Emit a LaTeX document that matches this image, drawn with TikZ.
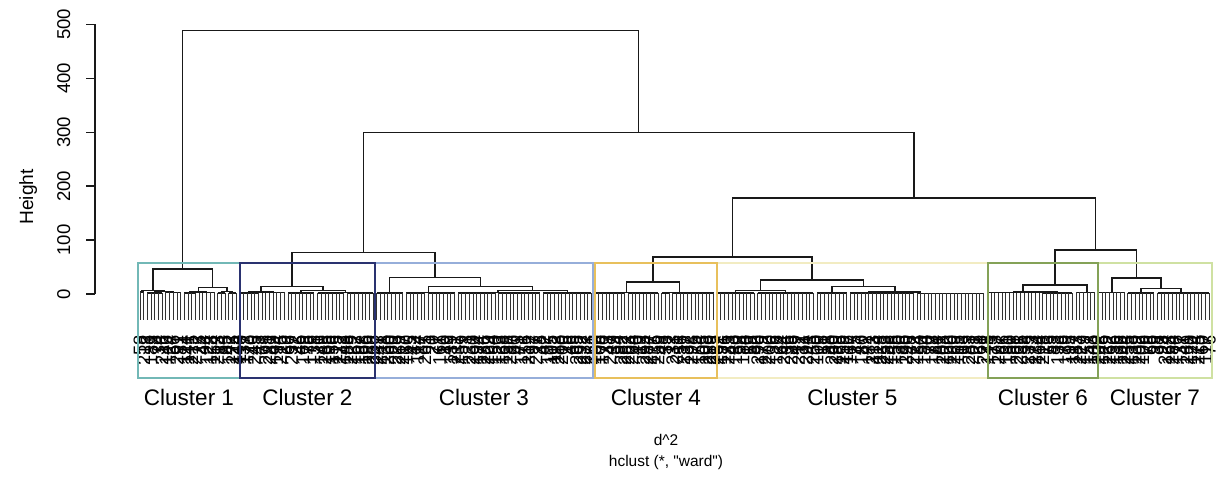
\documentclass[tikz,border=0pt]{standalone}
\usepackage{fontspec}
\setmainfont{Liberation Sans}
\usepackage{tikz}
\usetikzlibrary{positioning}

\definecolor{cone}{HTML}{72B8B6}
\definecolor{ctwo}{HTML}{2A3270}
\definecolor{cthree}{HTML}{96AEDA}
\definecolor{cfour}{HTML}{E8C05C}
\definecolor{cfive}{HTML}{F2ECC2}
\definecolor{csix}{HTML}{84A257}
\definecolor{cseven}{HTML}{CFE1A2}

\begin{document}
\begin{tikzpicture}[x = 0.025cm, y = 0.025cm,
    rama/.style = {draw = black!90, line width = 1pt},
    hoja/.style = {draw = black!80, line width = 0.7pt},
    leaflab/.style = {rotate = 90, anchor = east, inner sep = 0pt, font = \fontsize{13}{13}\selectfont},
    ticklab/.style = {rotate = 90, anchor = base, inner sep = 0pt, font = \fontsize{13.2}{13.2}\selectfont},
    caja/.style = {line width = 1.2pt},
    clab/.style = {anchor = base, inner sep = 0pt, font = \fontsize{16}{16}\selectfont},
    sublab/.style = {inner sep = 0pt, font = \fontsize{11}{11}\selectfont}]

    \useasboundingbox (0,0) rectangle (1216,477);

    % Extremo inferior de las hojas y posición del eje (en unidades del dendrograma).
    \pgfmathsetmacro{\hbot}{-48}
    \pgfmathsetmacro{\xax}{-12.2}

    \begin{scope}[shift = {(140,183)}, xscale = 3.7, yscale = 0.539]
        % Eje de alturas:
        \draw[rama] (\xax,0) -- (\xax,500);
        \foreach \t in {0,100,...,500} {
            \draw[rama] (\xax,\t) -- (-14.6,\t);
            \node[ticklab] (t\t) at (-18.9,\t) {\t};
        }
        \node[ticklab, font = \fontsize{13.6}{13.6}\selectfont] (ylab) at (-28.9,180) {Height};

        % Bloques de hojas: primera hoja / última hoja / altura de unión.
        \foreach \a/\b/\h in {0/1/4, 2/6/2, 7/11/3, 12/15/2, 16/20/3, 21/23/2, 24/26/1.5,
                              27/32/2, 33/39/3, 40/47/2, 48/55/2, 56/63/1.5,
                              64/71/2, 72/77/2, 78/85/2, 86/96/2, 97/108/2, 109/122/1.5,
                              123/131/1.5, 132/140/1.5, 141/143/1.5, 144/155/1.5,
                              156/166/2, 167/182/2, 183/191/2, 192/209/2, 210/228/1,
                              229/243/2.5, 244/252/1.5, 253/258/3,
                              259/266/3, 267/274/2, 275/289/2} {
            \draw[rama] (\a,\h) -- (\b,\h);
            \foreach \i in {\a,...,\b}
                \draw[hoja] (\i,\hbot) -- (\i,\h);
        }

        % Uniones: x izq / altura izq / x der / altura der / altura de la unión.
        \foreach \xl/\hl/\xr/\hr/\h in {4/2/9/3/5, 0.5/4/6.5/5/7, 13.5/2/18/3/4, 22/2/25/1.5/5,
                                        15.75/4/23.5/5/12, 3.5/7/19.625/12/46,
                                        29.5/2/36/3/4, 51.5/2/59.5/1.5/3, 43.5/2/55.5/3/6, 32.75/4/49.5/6/13.5,
                                        74.5/2/81.5/2/3, 91/2/102.5/2/3, 96.75/3/115.5/1.5/6,
                                        78/3/106.125/6/13.5, 67.5/2/92.06/13.5/31,
                                        41.125/13.5/79.78/31/77,
                                        127/1.5/136/1.5/2.5, 142/1.5/149.5/1.5/2.5, 131.5/2.5/145.75/2.5/22,
                                        161/2/174.5/2/7, 197/2/211/1/4, 187/2/204/4/13.5, 167.75/7/195.5/13.5/26,
                                        236/2.5/248/1.5/3.5, 238.6/3.5/255.9/3/16.7,
                                        270.5/2/281.4/2/10.5, 262.7/3/275.95/10.5/30,
                                        138.625/22/181.625/26/68.5, 247.25/16.7/269.3/30/81.5,
                                        160.125/68.5/258.3/81.5/178, 60.45/77/209.2/178/300,
                                        11.56/46/134.8/300/489}
            \draw[rama] (\xl,\hl) -- (\xl,\h) -- (\xr,\h) -- (\xr,\hr);

        % Etiquetas de las hojas (ilegibles, giradas).
        \pgfmathsetseed{17}
        \foreach \i in {0,...,289} {
            \pgfmathrandominteger{\lab}{1}{300}
            \node[leaflab] (l\i) at (\i,-76) {\lab};
        }
    \end{scope}

    % Cajas de los grupos:
    \foreach \n/\xa/\xb/\col in {5/717/988/cfive, 7/1098/1212/cseven, 3/375/593/cthree, 1/138/240/cone,
                                 2/240/375/ctwo, 4/595/717/cfour, 6/988/1098/csix} {
        \draw[caja, draw = \col] (\xa,99) rectangle (\xb,214);
        \node[clab] (cl\n) at ({(\xa+\xb)/2},71.3) {Cluster \n};
    }

    \node[sublab, anchor = base] (xlab) at (666,31) {d\textasciicircum 2};
    \node[sublab, below = 0.21cm of xlab] (sub) {hclust (*, \textquotedbl ward\textquotedbl)};
\end{tikzpicture}
\end{document}
